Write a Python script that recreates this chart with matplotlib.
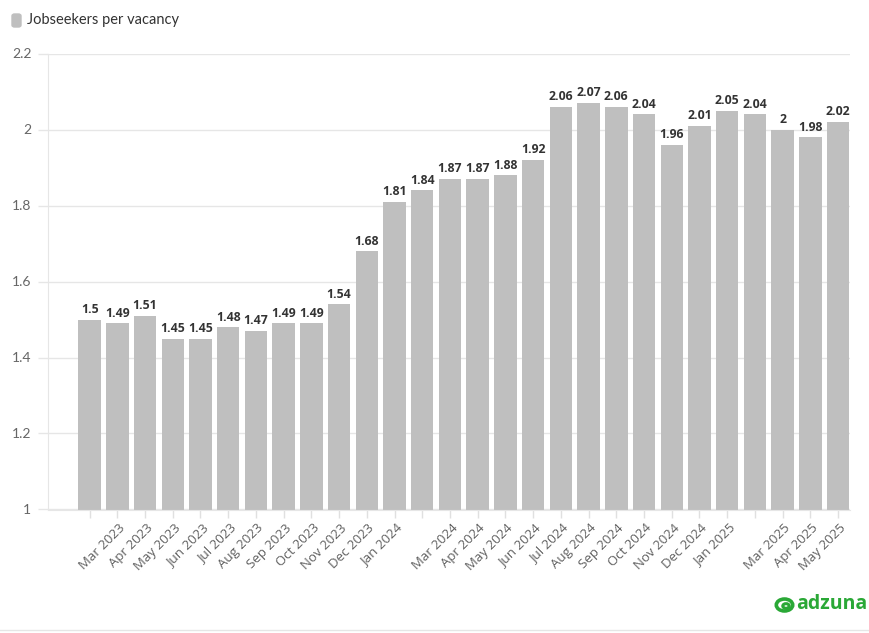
import matplotlib
matplotlib.use("Agg")
import matplotlib.pyplot as plt
import matplotlib.transforms as mtransforms
from matplotlib.patches import FancyBboxPatch, Circle
import numpy as np

# months Feb 2023 .. May 2025, one bar each
months = ["Feb 2023", "Mar 2023", "Apr 2023", "May 2023", "Jun 2023", "Jul 2023",
          "Aug 2023", "Sep 2023", "Oct 2023", "Nov 2023", "Dec 2023", "Jan 2024",
          "Feb 2024", "Mar 2024", "Apr 2024", "May 2024", "Jun 2024", "Jul 2024",
          "Aug 2024", "Sep 2024", "Oct 2024", "Nov 2024", "Dec 2024", "Jan 2025",
          "Feb 2025", "Mar 2025", "Apr 2025", "May 2025"]
ratio = [1.5, 1.49, 1.51, 1.45, 1.45, 1.48, 1.47, 1.49, 1.49, 1.54, 1.68, 1.81,
         1.84, 1.87, 1.87, 1.88, 1.92, 2.06, 2.07, 2.06, 2.04, 1.96, 2.01, 2.05,
         2.04, 2, 1.98, 2.02]
# the Feb labels are left out on the axis
tick_labels = ["" if m.startswith("Feb") else m for m in months]
y_ticks = [1, 1.2, 1.4, 1.6, 1.8, 2, 2.2]

plt.rcParams["font.family"] = ["Lato", "DejaVu Sans"]

fig = plt.figure(figsize=(8.7, 6.33), dpi=100)
ax = fig.add_axes([48 / 870, 1 - 509.5 / 633, 802 / 870, 456 / 633])

x = np.arange(len(ratio))
bars = ax.bar(x, ratio, width=0.81, color="#bfbfbf", zorder=2)

for xi, v in zip(x, ratio):
    ax.annotate(f"{v:g}", (xi, v), xytext=(0, 2.5), textcoords="offset points",
                ha="center", va="bottom", fontsize=8.8, fontweight="bold",
                color="#333333", family=["Open Sans", "DejaVu Sans"])

ax.set_ylim(1, 2.2)
ax.set_xlim(-1.5, 27.43)
ax.set_yticks(y_ticks)
ax.set_yticklabels([f"{t:g}" for t in y_ticks])
ax.set_xticks(x)
ax.tick_params(axis="x", labelbottom=False)

# rotated month labels, drawn by hand so they can sit a bit right of the tick
shift = mtransforms.ScaledTranslation(1 / 100, -12 / 100, fig.dpi_scale_trans)
for xi, lab in zip(x, tick_labels):
    if lab:
        ax.text(xi, 0, lab, transform=ax.get_xaxis_transform() + shift,
                rotation=45, ha="right", va="top", rotation_mode="anchor",
                fontsize=9.5, color="#606060", family=["Open Sans", "DejaVu Sans"])

ax.grid(axis="y", color="#e6e6e6", linewidth=1, zorder=0)
for side in ["top", "right"]:
    ax.spines[side].set_visible(False)
ax.spines["left"].set_color("#e6e6e6")
ax.spines["bottom"].set_color("#e6e6e6")
ax.tick_params(axis="x", colors="#e0e0e0", length=6, width=1)
ax.tick_params(axis="y", colors="#e6e6e6", length=7, width=1, pad=5,
               labelcolor="#666666", labelsize=10)

# legend at top left
fig.patches.append(FancyBboxPatch((12 / 870, 1 - 27 / 633), 9 / 870, 13 / 633,
                                  boxstyle="round,pad=0,rounding_size=0.003",
                                  transform=fig.transFigure, color="#bfbfbf"))
fig.text(27 / 870, 1 - 20 / 633, "Jobseekers per vacancy", fontsize=10.5,
         color="#333333", va="center", ha="left")

# adzuna logo
green = "#2aa836"
fig.patches.append(Circle((784.5 / 870, 1 - 605 / 633), 8.2 / 870,
                          transform=fig.transFigure, fill=False,
                          edgecolor=green, linewidth=2.6))
fig.patches.append(Circle((786 / 870, 1 - 606 / 633), 3.2 / 870,
                          transform=fig.transFigure, fill=False,
                          edgecolor=green, linewidth=2.2))
fig.text(796 / 870, 1 - 604 / 633, "adzuna", fontsize=14, fontweight="bold",
         color=green, va="center", ha="left", family=["Open Sans", "DejaVu Sans"])

# thin separator at bottom
fig.add_artist(plt.Line2D([0, 1], [1 - 630 / 633] * 2, color="#e6e6e6",
                          linewidth=1, transform=fig.transFigure))

fig.savefig("out.png", dpi=100)
